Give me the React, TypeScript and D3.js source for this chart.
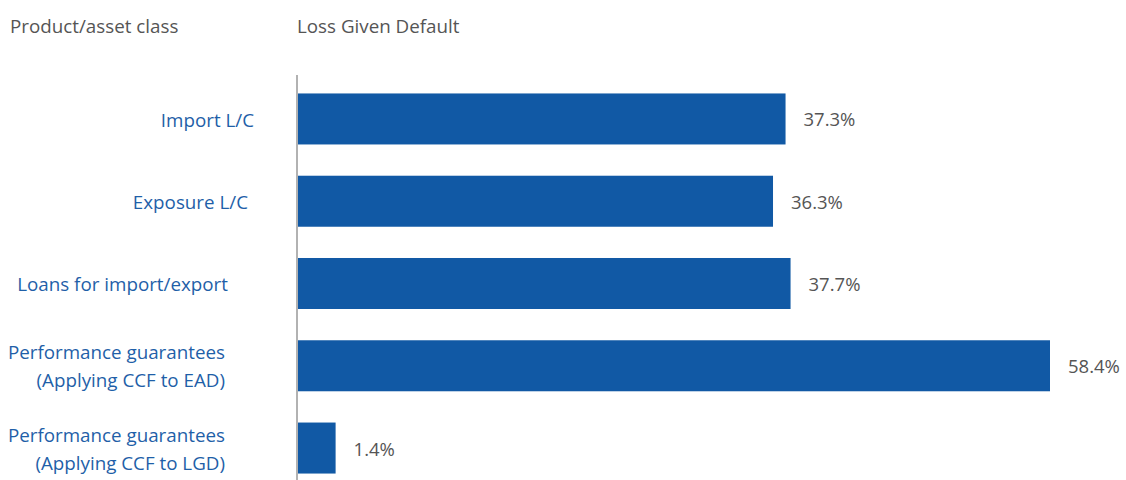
import React from "react";
import * as d3 from "d3";

const categories = [
  ["Import L/C"],
  ["Exposure L/C"],
  ["Loans for import/export"],
  ["Performance guarantees", "(Applying CCF to EAD)"],
  ["Performance guarantees", "(Applying CCF to LGD)"],
];
const values = [37.3, 36.3, 37.7, 58.4, 1.4];
const valueLabels = ["37.3%", "36.3%", "37.7%", "58.4%", "1.4%"];
const headerLeft = "Product/asset class";
const headerRight = "Loss Given Default";

// layout (not data): right edge of each category label
const labelRight = [254, 248, 228, 225, 225];

const W = 1126;
const H = 480;
const FONT = "'Open Sans', 'Noto Sans', sans-serif";

export default function App() {
  const x = d3.scaleLinear().domain([-1.6, 58.4]).range([298, 1050]);
  const y = d3
    .scaleBand<number>()
    .domain(d3.range(values.length))
    .range([77, 490])
    .paddingInner(0.38)
    .paddingOuter(0.2);
  const x0 = x(-1.6);

  return (
    <svg
      width={W}
      height={H}
      style={{ position: "absolute", left: 0, top: 0, background: "#fff" }}
      fontFamily={FONT}
    >
      <text x={10} y={33} fontSize={18.8} fill="#555">
        {headerLeft}
      </text>
      <text x={297} y={33} fontSize={18.8} fill="#555">
        {headerRight}
      </text>
      {values.map((v, i) => {
        const yy = y(i)!;
        const bw = y.bandwidth();
        const cy = yy + bw / 2;
        const lines = categories[i];
        return (
          <g key={i}>
            <rect x={x0} y={yy} width={x(v) - x0} height={bw} fill="#1159a5" />
            <text
              x={x(v) + 18}
              y={cy + 1}
              dy="0.35em"
              fontSize={18.5}
              fill="#555"
            >
              {valueLabels[i]}
            </text>
            {lines.map((ln, j) => (
              <text
                key={j}
                x={labelRight[i]}
                y={cy + 1 + (j - (lines.length - 1) / 2) * 28}
                dy="0.35em"
                textAnchor="end"
                fontSize={18.8}
                fill="#1f5fa8"
              >
                {ln}
              </text>
            ))}
          </g>
        );
      })}
      <line x1={297} x2={297} y1={75} y2={480} stroke="#999" strokeWidth={1.5} />
    </svg>
  );
}
